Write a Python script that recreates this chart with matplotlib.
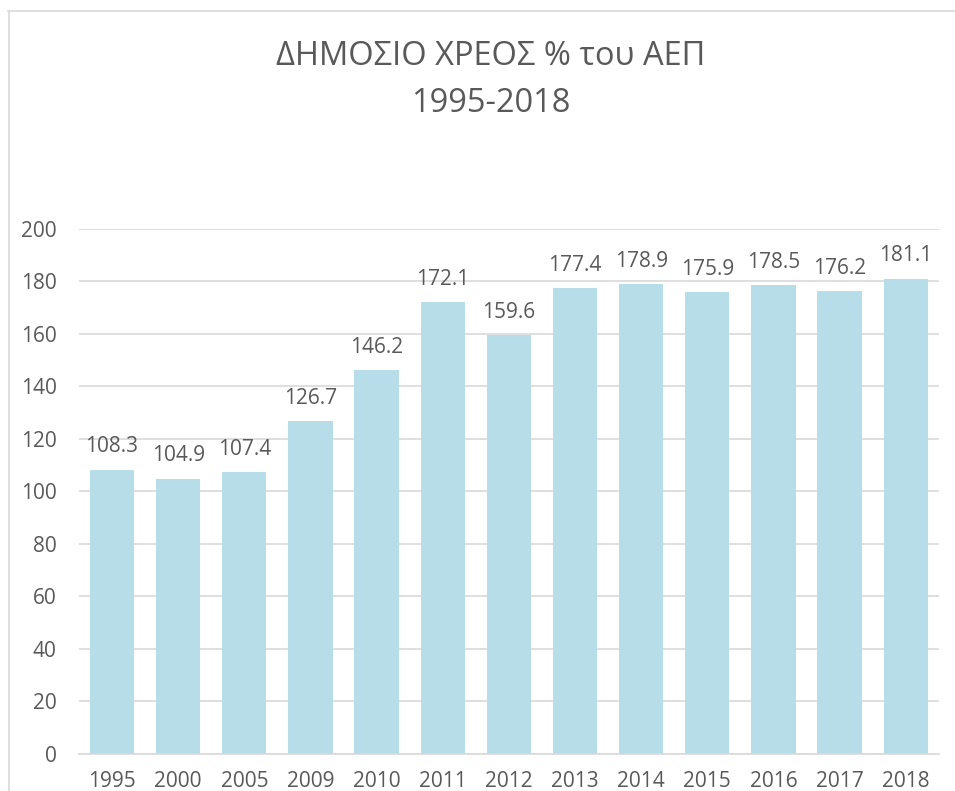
import matplotlib.pyplot as plt
from matplotlib.lines import Line2D

years = ['1995', '2000', '2005', '2009', '2010', '2011', '2012',
         '2013', '2014', '2015', '2016', '2017', '2018']
debt = [108.3, 104.9, 107.4, 126.7, 146.2, 172.1, 159.6,
        177.4, 178.9, 175.9, 178.5, 176.2, 181.1]

plt.rcParams['font.family'] = ['Open Sans', 'DejaVu Sans']
text_color = '#595959'
grid_color = '#D9D9D9'

fig = plt.figure(figsize=(9.55, 7.91), dpi=100)
ax = fig.add_axes([0.0827, 0.0468, 0.9003, 0.6637])

x = range(len(years))
bars = ax.bar(x, debt, width=0.67, color='#B7DEE8', zorder=2)
for b, v in zip(bars, debt):
    ax.annotate(f"{v}", (b.get_x() + b.get_width() / 2, v),
                xytext=(0, 9), textcoords='offset points',
                ha='center', va='bottom', fontsize=15, color=text_color)

ax.set_xlim(-0.5, len(years) - 0.5)
ax.set_ylim(0, 200)
ax.set_yticks(range(0, 201, 20))
ax.set_xticks(list(x), labels=years)
ax.yaxis.grid(True, color=grid_color, linewidth=1.2, zorder=0)
ax.tick_params(axis='both', length=0, labelsize=15, labelcolor=text_color)
ax.tick_params(axis='x', pad=12)
ax.tick_params(axis='y', pad=16)
for s in ['top', 'right', 'left']:
    ax.spines[s].set_visible(False)
ax.spines['bottom'].set_color(grid_color)
ax.spines['bottom'].set_linewidth(1.2)

fig.text(0.514, 0.928, "ΔΗΜΟΣΙΟ ΧΡΕΟΣ % του ΑΕΠ", ha='center', va='center',
         fontsize=23.5, color=text_color)
fig.text(0.514, 0.869, "1995-2018", ha='center', va='center',
         fontsize=23.5, color=text_color)

# chart frame (only left and top edges visible in the crop)
fig.add_artist(Line2D([8.5 / 955, 8.5 / 955], [0, 1 - 11 / 791],
                      transform=fig.transFigure, color=grid_color, linewidth=1.2))
fig.add_artist(Line2D([8 / 955, 1], [1 - 11 / 791, 1 - 11 / 791],
                      transform=fig.transFigure, color=grid_color, linewidth=1.2))

fig.savefig('out.png', dpi=100)
